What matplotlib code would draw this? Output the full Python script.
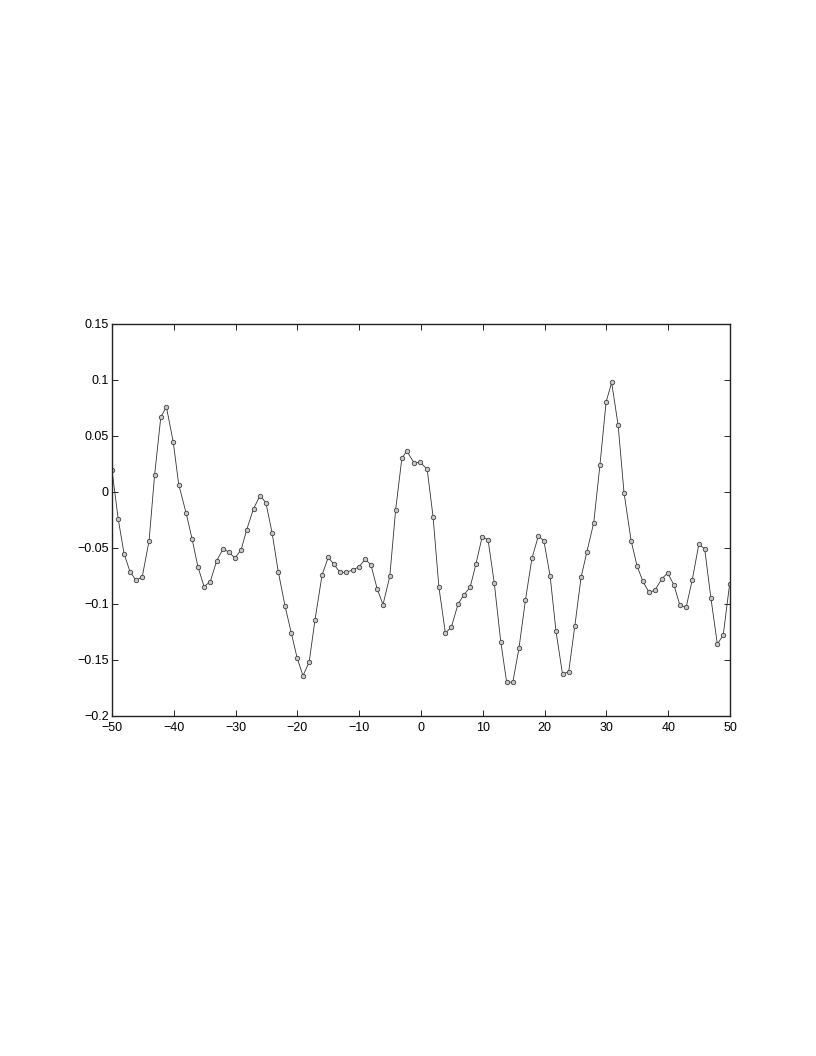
import matplotlib
matplotlib.use("Agg")
import matplotlib.pyplot as plt

# sample points
xs = [-50.0, -49.0, -48.05, -47.1, -46.1, -45.1, -44.0, -43.1, -42.1, -41.2,
      -40.1, -39.2, -38.0, -37.05, -36.1, -35.1, -34.1, -33.05, -32.0, -31.05,
      -30.1, -29.1, -28.2, -27.1, -26.05, -25.1, -24.1, -23.1, -22.0, -21.0,
      -20.05, -19.1, -18.1, -17.15, -16.0, -15.0, -14.1, -13.1, -12.1, -11.05,
      -10.0, -9.05, -8.1, -7.1, -6.15, -5.05, -4.1, -3.1, -2.3, -1.15,
      -0.1, 1.0, 1.95, 2.9, 3.95, 4.9, 6.0, 6.95, 7.95, 8.9,
      9.9, 10.85, 11.85, 12.9, 13.85, 14.85, 15.85, 16.9, 17.95, 19.0,
      19.9, 20.9, 21.85, 22.9, 23.9, 24.9, 25.9, 26.85, 27.95, 28.95,
      29.95, 30.85, 31.9, 32.85, 34.0, 34.95, 35.9, 36.9, 37.85, 38.95,
      39.9, 40.95, 41.9, 42.9, 43.9, 44.95, 45.9, 46.9, 47.95, 48.9,
      49.95]
ys = [0.0196, -0.024, -0.055, -0.071, -0.079, -0.0756, -0.0435, 0.0155, 0.067, 0.076,
      0.045, 0.0066, -0.019, -0.0417, -0.0667, -0.0845, -0.080, -0.0613, -0.0506, -0.054,
      -0.059, -0.0515, -0.0336, -0.0149, -0.0033, -0.0095, -0.0363, -0.071, -0.1018, -0.1256,
      -0.148, -0.164, -0.152, -0.114, -0.0738, -0.0583, -0.0646, -0.0717, -0.0717, -0.0696,
      -0.0667, -0.060, -0.065, -0.0863, -0.1006, -0.0753, -0.0158, 0.030, 0.0365, 0.0262,
      0.0265, 0.0202, -0.022, -0.0851, -0.126, -0.1208, -0.100, -0.0917, -0.0851, -0.064,
      -0.0399, -0.0426, -0.081, -0.1335, -0.1694, -0.170, -0.1396, -0.0965, -0.0592, -0.039,
      -0.044, -0.0753, -0.1245, -0.1627, -0.1604, -0.1193, -0.0762, -0.0533, -0.0274, 0.0238,
      0.0803, 0.0978, 0.0595, -0.0006, -0.0435, -0.0658, -0.0798, -0.0896, -0.0878, -0.0776,
      -0.0723, -0.0833, -0.1013, -0.103, -0.0783, -0.0468, -0.0506, -0.0943, -0.1357, -0.128,
      -0.0817]

xticks = [-50, -40, -30, -20, -10, 0, 10, 20, 30, 40, 50]
xticklabels = ["\u221250", "\u221240", "\u221230", "\u221220", "\u221210", "0",
               "10", "20", "30", "40", "50"]
yticks = [-0.2, -0.15, -0.1, -0.05, 0, 0.05, 0.1, 0.15]
yticklabels = ["\u22120.2", "\u22120.15", "\u22120.1", "\u22120.05", "0",
               "0.05", "0.1", "0.15"]

plt.rcParams['font.family'] = ['Liberation Sans', 'DejaVu Sans']

fig = plt.figure(figsize=(8.16, 10.56), dpi=100)
ax = fig.add_axes([112 / 816, 1 - 716 / 1056, 618 / 816, 392 / 1056])

ax.plot(xs, ys, '-', color='#333333', linewidth=0.6)
ax.plot(xs, ys, 'o', markersize=3.2, markerfacecolor='#c8c8c8',
        markeredgecolor='#404040', markeredgewidth=0.6)

ax.set_xlim(-50, 50)
ax.set_ylim(-0.2, 0.15)
ax.set_xticks(xticks)
ax.set_xticklabels(xticklabels)
ax.set_yticks(yticks)
ax.set_yticklabels(yticklabels)

ax.tick_params(direction='in', length=4.5, width=0.6, top=True, right=True,
               labelsize=9, colors='black')
ax.tick_params(axis='x', pad=4.5)
ax.tick_params(axis='y', pad=2.5)
for s in ax.spines.values():
    s.set_linewidth(1.0)
    s.set_color('#222222')

fig.savefig("out.png", dpi=100)
